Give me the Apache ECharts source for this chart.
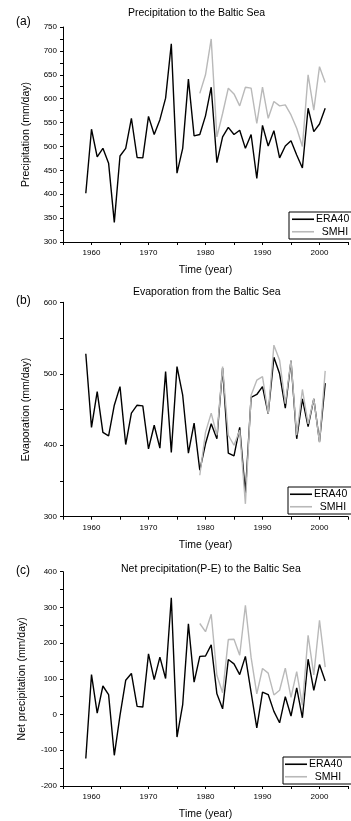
<!doctype html>
<html lang="en">
<head>
<meta charset="UTF-8">
<title>Baltic Sea</title>
<style>
  html, body { margin: 0; padding: 0; background: #fff; }
  #main { width: 351px; height: 821px; }
</style>
<script src="https://cdn.jsdelivr.net/npm/echarts@6/dist/echarts.min.js"></script>
</head>
<body>
<div id="main"></div>
<script type="text/javascript">
// years
var years = [1959, 1960, 1961, 1962, 1963, 1964, 1965, 1966, 1967, 1968, 1969,
             1970, 1971, 1972, 1973, 1974, 1975, 1976, 1977, 1978, 1979,
             1980, 1981, 1982, 1983, 1984, 1985, 1986, 1987, 1988, 1989,
             1990, 1991, 1992, 1993, 1994, 1995, 1996, 1997, 1998, 1999,
             2000, 2001];
var smhiYears = [1979, 1980, 1981, 1982, 1983, 1984, 1985, 1986, 1987, 1988, 1989,
                 1990, 1991, 1992, 1993, 1994, 1995, 1996, 1997, 1998, 1999,
                 2000, 2001];
var xLabelYears = [1960, 1970, 1980, 1990, 2000];

// (a) precipitation
var precipEra = [402, 536, 478, 496, 465, 341, 480, 496, 559, 477, 476,
                 563, 525, 556, 601, 715, 444, 496, 641, 522, 525,
                 564, 624, 466, 520, 540, 525, 534, 496, 525, 433,
                 544, 501, 533, 476, 501, 512, 482, 455, 580, 531,
                 547, 580];
var precipSmhi = [611, 650, 725, 520, 569, 622, 610, 585, 624, 622, 548,
                  624, 559, 594, 585, 587, 566, 538, 500, 650, 576,
                  667, 634];

// (b) evaporation
var evapEra = [528, 425, 475, 418, 413, 456, 482, 401, 445, 456, 455,
               395, 428, 396, 503, 390, 510, 470, 389, 431, 365,
               402, 430, 409, 508, 389, 385, 425, 333, 467, 471,
               482, 444, 523, 500, 452, 518, 409, 465, 426, 465,
               405, 487];
var evapSmhi = [358, 418, 445, 414, 510, 414, 400, 421, 318, 470, 491,
                496, 444, 540, 519, 458, 519, 414, 478, 430, 465,
                404, 504];

// (c) net precipitation
var netEra = [-123, 112, 4, 80, 56, -114, -2, 96, 115, 23, 21,
              170, 98, 161, 101, 327, -63, 28, 254, 91, 163,
              164, 195, 58, 16, 154, 142, 112, 163, 62, -37,
              63, 56, 9, -23, 50, -4, 75, -9, 155, 68,
              140, 94];
var netSmhi = [255, 232, 281, 110, 61, 210, 211, 166, 306, 160, 58,
               129, 116, 55, 68, 130, 48, 120, 26, 222, 111,
               264, 133];

var titles = ['Precipitation to the Baltic Sea', 'Evaporation from the Baltic Sea',
              'Net precipitation(P-E) to the Baltic Sea'];
var panelTags = ['(a)', '(b)', '(c)'];
var yNames = ['Precipitation (mm/day)', 'Evaporation (mm/day)', 'Net precipitation (mm/day)'];

function pairs(xs, ys) {
    return xs.map(function (x, i) { return [x, ys[i]]; });
}

var font = 'Liberation Sans, Arial, sans-serif';
var eraColor = '#000000';
var smhiColor = '#b9b9b9';

var grids = [
    { left: 63, top: 27, width: 292.5, height: 215 },
    { left: 63, top: 302.3, width: 292.5, height: 214.4 },
    { left: 63, top: 571.7, width: 292.5, height: 215 }
];
var yRanges = [
    { min: 300, max: 750, interval: 50, gap: 31 },
    { min: 300, max: 600, interval: 100, gap: 31 },
    { min: -200, max: 400, interval: 100, gap: 35 }
];
var titlePos = [
    { left: 128, top: 8 },
    { left: 133, top: 287 },
    { left: 121, top: 564 }
];
var tagTops = [16, 295, 565];
var legendPos = [
    { left: 289, top: 212, pad: 3 },
    { left: 288, top: 487, pad: 2 },
    { left: 283, top: 757, pad: 2 }
];

var xAxes = [], yAxes = [], series = [], title = [], legend = [];

for (var i = 0; i < 3; i++) {
    xAxes.push({
        gridIndex: i,
        type: 'value',
        min: 1955,
        max: 2005,
        interval: 5,
        name: 'Time (year)',
        nameLocation: 'middle',
        nameGap: 23,
        nameTextStyle: { color: '#000', fontSize: 10.5, fontFamily: font },
        axisLine: { onZero: false, lineStyle: { color: '#000', width: 1 } },
        axisTick: { show: true, length: 3, lineStyle: { color: '#000' } },
        axisLabel: {
            color: '#000', fontSize: 8, fontFamily: font, margin: 7,
            formatter: function (v) { return xLabelYears.indexOf(v) >= 0 ? String(v) : ''; }
        },
        splitLine: { show: false }
    });
    yAxes.push({
        gridIndex: i,
        type: 'value',
        min: yRanges[i].min,
        max: yRanges[i].max,
        interval: yRanges[i].interval,
        name: yNames[i],
        nameLocation: 'middle',
        nameGap: yRanges[i].gap,
        nameTextStyle: { color: '#000', fontSize: 10.5, fontFamily: font },
        axisLine: { show: true, onZero: false, lineStyle: { color: '#000', width: 1 } },
        axisTick: { show: true, length: 3, lineStyle: { color: '#000' } },
        minorTick: { show: true, splitNumber: 2, length: 3, lineStyle: { color: '#000' } },
        axisLabel: { color: '#000', fontSize: 8, fontFamily: font, margin: 6 },
        splitLine: { show: false }
    });

    title.push({
        text: titles[i],
        left: titlePos[i].left,
        top: titlePos[i].top,
        padding: 0,
        textStyle: { color: '#000', fontSize: 10.5, fontWeight: 'normal', fontFamily: font }
    });
    title.push({
        text: panelTags[i],
        left: 16,
        top: tagTops[i],
        padding: 0,
        textStyle: { color: '#000', fontSize: 12, fontWeight: 'normal', fontFamily: font }
    });

    legend.push({
        data: [{ name: 'ERA40', icon: 'rect' }, { name: 'SMHI', icon: 'rect' }],
        orient: 'vertical',
        left: legendPos[i].left,
        top: legendPos[i].top,
        padding: [1, 40, 1, legendPos[i].pad],
        itemGap: 0,
        itemWidth: 22,
        itemHeight: 1.6,
        borderColor: '#000',
        borderWidth: 1,
        borderRadius: 0,
        backgroundColor: '#fff',
        formatter: function (name) { return name === 'SMHI' ? '  SMHI' : name; },
        textStyle: { color: '#000', fontSize: 10.5, fontFamily: font, padding: [0, 0, 0, -3], lineHeight: 12.5 }
    });
}

var eraData = [precipEra, evapEra, netEra];
var smhiData = [precipSmhi, evapSmhi, netSmhi];
for (var k = 0; k < 3; k++) {
    series.push({
        name: 'ERA40',
        type: 'line',
        xAxisIndex: k,
        yAxisIndex: k,
        symbol: 'none',
        lineStyle: { color: eraColor, width: 1.4 },
        itemStyle: { color: eraColor },
        data: pairs(years, eraData[k])
    });
    series.push({
        name: 'SMHI',
        type: 'line',
        xAxisIndex: k,
        yAxisIndex: k,
        symbol: 'none',
        lineStyle: { color: smhiColor, width: 1.4 },
        itemStyle: { color: smhiColor },
        data: pairs(smhiYears, smhiData[k])
    });
}

var myChart = echarts.init(document.getElementById('main'));
myChart.setOption({
    backgroundColor: '#fff',
    animation: false,
    title: title,
    legend: legend,
    grid: grids,
    xAxis: xAxes,
    yAxis: yAxes,
    series: series
});
</script>
</body>
</html>
